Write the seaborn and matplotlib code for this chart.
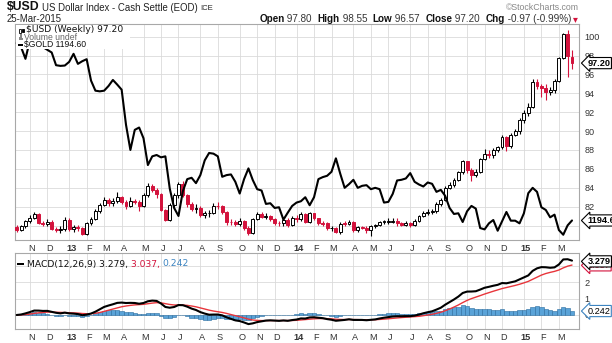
import numpy as np
import pandas as pd
import matplotlib
matplotlib.use("Agg")
import matplotlib.pyplot as plt
import seaborn as sns
from matplotlib.patches import Rectangle
from matplotlib.transforms import ScaledTranslation

# ---------------- data (weekly bars, week of 2012-10-15 .. 2015-03-23) ----------------
first_week = "2012-10-15"

usd_open = [79.85,79.52,79.90,80.45,80.80,81.22,80.30,80.12,80.40,79.62,
            79.55,79.68,80.60,79.62,79.88,79.72,79.12,80.25,80.70,81.50,
            82.22,82.72,82.40,82.60,83.02,82.52,82.10,82.60,82.50,82.12,
            83.22,84.22,83.80,83.30,81.62,80.62,82.20,83.25,84.40,83.20,
            82.25,81.70,81.88,81.12,81.30,81.32,82.12,82.05,81.42,80.40,
            80.35,80.12,80.45,79.72,79.25,80.72,81.18,80.92,81.00,80.68,
            80.28,80.22,80.60,80.05,80.80,80.68,81.20,80.40,81.30,80.75,
            80.22,80.22,79.70,79.72,79.30,80.20,80.18,80.40,79.48,79.82,
            79.78,79.50,79.92,80.02,80.40,80.40,80.42,80.45,80.28,80.10,
            80.22,80.10,80.52,81.00,81.38,81.40,81.50,82.30,82.75,84.00,
            84.30,84.80,85.62,86.80,85.90,85.32,85.70,87.00,87.62,87.50,
            88.00,88.30,89.40,88.40,89.62,90.00,91.22,91.90,92.55,95.20,
            94.80,94.60,94.18,94.30,95.32,97.70,100.30,97.80]

usd_high = [80.05,80.10,80.60,81.10,81.45,81.35,80.45,80.65,80.55,79.85,
            79.90,80.90,80.75,80.05,80.10,79.85,80.40,80.90,81.80,82.40,
            83.00,82.95,82.90,83.55,83.15,82.75,83.00,82.85,82.70,83.45,
            84.50,84.45,84.00,83.45,81.75,82.35,83.40,84.60,84.75,83.35,
            82.45,82.25,82.05,81.50,81.65,82.40,82.50,82.15,81.55,80.65,
            80.55,80.75,80.60,79.90,80.85,81.45,81.40,81.30,81.15,80.85,
            80.50,80.90,80.75,81.00,81.10,81.40,81.30,81.45,81.35,80.85,
            80.45,80.35,80.00,79.85,80.40,80.50,80.60,80.50,79.95,80.00,
            79.95,80.10,80.20,80.50,80.60,80.75,80.80,80.75,80.40,80.45,
            80.35,80.65,81.15,81.55,81.70,81.70,82.45,82.90,84.20,84.65,
            85.00,85.80,86.95,86.85,86.05,86.00,87.20,88.15,87.95,88.20,
            88.45,89.55,89.50,89.80,90.25,91.35,92.20,93.00,95.50,95.50,
            95.00,95.00,94.70,95.55,97.80,100.39,100.71,98.55]

usd_low = [79.30,79.40,79.75,80.30,80.65,80.20,79.95,79.90,79.50,79.30,
           79.20,79.45,79.40,79.35,79.45,78.95,78.95,80.05,80.55,81.30,
           82.05,82.10,82.05,82.40,82.30,81.70,81.95,82.25,81.50,81.95,
           83.05,83.55,82.95,81.50,80.50,80.45,81.90,82.90,83.05,82.00,
           81.50,81.35,80.90,80.85,80.95,81.20,81.80,81.25,80.10,80.10,
           79.90,79.95,79.55,79.00,79.15,80.55,80.75,80.65,80.50,80.10,
           79.95,79.95,79.85,79.90,80.40,80.50,80.25,80.30,80.60,80.05,
           79.90,79.50,79.45,79.20,79.10,79.95,80.05,79.35,79.30,79.60,
           79.25,78.90,79.70,79.90,80.15,80.20,80.25,79.95,79.90,79.90,
           79.85,79.95,80.40,80.90,81.15,81.25,81.35,82.10,82.65,83.90,
           84.05,84.70,85.45,85.55,84.70,85.10,85.55,86.95,87.15,87.20,
           87.75,88.10,87.90,88.25,89.50,89.70,90.85,91.60,92.40,94.45,
           93.60,93.25,93.80,94.05,95.15,97.60,95.70,96.57]

usd_close = [79.52,79.90,80.45,80.80,81.22,80.30,80.12,80.40,79.62,79.55,
             79.68,80.60,79.62,79.88,79.72,79.12,80.25,80.70,81.50,82.22,
             82.72,82.40,82.60,83.02,82.52,82.10,82.60,82.50,82.12,83.22,
             84.22,83.80,83.30,81.62,80.62,82.20,83.25,84.40,83.20,82.25,
             81.70,81.88,81.12,81.30,81.32,82.12,82.05,81.42,80.40,80.35,
             80.12,80.45,79.72,79.25,80.72,81.18,80.92,81.00,80.68,80.28,
             80.22,80.60,80.05,80.80,80.68,81.20,80.40,81.30,80.75,80.22,
             80.20,79.70,79.72,79.30,80.20,80.18,80.40,79.48,79.82,79.78,
             79.50,79.92,80.02,80.40,80.42,80.42,80.45,80.28,80.10,80.22,
             80.10,80.52,81.00,81.38,81.40,81.50,82.30,82.75,84.00,84.30,
             84.80,85.62,86.80,85.90,85.32,85.70,87.00,87.62,87.50,88.00,
             88.30,89.40,88.40,89.62,90.00,91.22,91.90,92.55,95.20,94.80,
             94.60,94.18,94.30,95.32,97.72,100.29,97.90,97.20]

gold_close = [1724,1712,1677,1731,1713,1750,1712,1704,1696,1658,
              1656,1657,1668,1692,1662,1670,1676,1612,1582,1580,
              1582,1596,1614,1600,1585,1480,1405,1465,1472,1440,
              1360,1386,1390,1383,1386,1290,1232,1208,1282,1318,
              1322,1306,1330,1374,1396,1394,1386,1325,1330,1332,
              1310,1275,1318,1350,1315,1288,1284,1244,1246,1232,
              1234,1197,1218,1238,1248,1252,1264,1240,1264,1318,
              1324,1328,1340,1380,1334,1292,1303,1316,1292,1298,
              1300,1288,1292,1288,1248,1250,1274,1314,1316,1320,
              1336,1310,1302,1296,1308,1304,1280,1286,1268,1232,
              1214,1216,1190,1222,1238,1230,1172,1168,1186,1196,
              1164,1192,1220,1194,1194,1186,1216,1276,1292,1280,
              1234,1226,1204,1212,1166,1152,1180,1194.6]

macd_periods = (12, 26, 9)
tick_labels = ["N","D","13","F","M","A","M","J","J","A","S","O","N","D",
               "14","F","M","A","M","J","J","A","S","O","N","D","15","F","M"]
usd_ticks = [80, 82, 84, 86, 88, 90, 92, 94, 96, 98, 100]
macd_ticks = [0, 1, 2, 3]
usd_last, gold_last = 97.20, 1194.60
macd_last = (3.279, 3.037, 0.242)

# ---------------- setup ----------------
sns.set_theme(style="white")
plt.rcParams["font.family"] = ["Liberation Sans", "DejaVu Sans"]

W, H = 612, 343
fig = plt.figure(figsize=(W / 100, H / 100), dpi=100)
fig.patch.set_facecolor("white")
def fx(p): return p / W
def fy(p): return 1 - p / H

LX, RX = 15, 579
MT, MB = 24, 240
CT, CB = 252.7, 329.3
ax = fig.add_axes([fx(LX), fy(MB), (RX - LX) / W, (MB - MT) / H])
ax3 = fig.add_axes([fx(LX), fy(CB), (RX - LX) / W, (CB - CT) / H], sharex=ax)

n = len(usd_close)
idx = np.arange(n)
dates = pd.date_range(first_week, periods=n, freq="7D")
month_pos = [i for i in range(1, n) if dates[i].month != dates[i - 1].month]

RED = "#d3123c"
GRID = "#dadada"
o = np.array(usd_open); c = np.array(usd_close)
hi = np.array(usd_high); lo = np.array(usd_low)
up = c >= o
edge = np.where(up, "black", RED)
face = np.where(up, "white", RED)

# ---- main panel: candles ----
ax.vlines(idx, lo, hi, colors=edge, lw=0.8, zorder=2)
ax.bar(idx, np.maximum(np.abs(c - o), 0.06), bottom=np.minimum(o, c), width=0.66,
       color=face, edgecolor=edge, linewidth=0.7, zorder=3)
ax.set_ylim(78.47, 101.34)
ax.set_xlim(-0.39, 128.6)

# gold overlay
ax2 = ax.twinx()
sns.lineplot(x=idx, y=gold_close, ax=ax2, color="black", lw=1.5, zorder=4)
ax2.set_ylim(1136.3, 1781)
ax2.set_yticks([])
ax2.set_ylabel("")
ax2.grid(False)
for s in ax2.spines.values():
    s.set_visible(False)

# ---- MACD panel ----
cs = pd.Series(usd_close)
f, s_, g = macd_periods
macd = cs.ewm(span=f, adjust=False).mean() - cs.ewm(span=s_, adjust=False).mean()
signal = macd.ewm(span=g, adjust=False).mean()
hist = macd - signal
ax3.bar(idx, hist.values, width=1.0, color="#5aa3d8", edgecolor="#2a6c9e", linewidth=0.4, zorder=2)
sns.lineplot(x=idx, y=signal.values, ax=ax3, color="#e8353b", lw=1.0, zorder=3)
sns.lineplot(x=idx, y=macd.values, ax=ax3, color="black", lw=1.5, zorder=4)
ax3.set_ylim(-0.875, 3.81)

# ---- axes styling ----
for a in (ax, ax3):
    a.set_facecolor("white")
    for sp in a.spines.values():
        sp.set_color("#a8a8a8"); sp.set_linewidth(0.8)
    a.set_xticks(month_pos)
    a.grid(True, color=GRID, lw=0.6)
    a.set_axisbelow(True)
    a.yaxis.tick_right()
    a.tick_params(axis="both", length=0, labelsize=6.6, colors="#333333")
    a.tick_params(axis="x", pad=3)
    a.tick_params(axis="y", pad=4)
    a.set_xlabel(""); a.set_ylabel("")
    a.set_xticklabels(tick_labels)
    for lbl in a.get_xticklabels():
        lbl.set_transform(lbl.get_transform() + ScaledTranslation(2 / 100, 0, fig.dpi_scale_trans))
        if lbl.get_text().isdigit():
            lbl.set_fontweight("bold")
ax.set_yticks(usd_ticks)
ax.set_yticklabels(["" if v == 80 else str(v) for v in usd_ticks])
ax3.set_yticks(macd_ticks)
ax3.set_yticklabels([str(v) if v < 3 else "" for v in macd_ticks])

# ---- right-side value tags ----
def tag(a, val, text, ec, tc="black", weight="bold", z=10):
    a.annotate(text, xy=(1.0, val), xycoords=("axes fraction", "data"),
               xytext=(6, 0), textcoords="offset points", va="center", ha="left",
               fontsize=6.6, color=tc, fontweight=weight, annotation_clip=False, zorder=z,
               bbox=dict(boxstyle="larrow,pad=0.12", fc="white", ec=ec, lw=0.8))
tag(ax, usd_last, f"{usd_last:.2f}", "black")
tag(ax2, gold_last, f"{gold_last:.2f}", "black")
tag(ax3, macd_last[1], f"{macd_last[1]:.3f}", RED, tc=RED, weight="normal", z=9)
tag(ax3, macd_last[0], f"{macd_last[0]:.3f}", "black", z=10)
tag(ax3, macd_last[2], f"{macd_last[2]:.3f}", "#3b83c0", weight="normal")

# ---- text helpers ----
renderer = fig.canvas.get_renderer()
def seq_text(x, y, pieces, align="left"):
    ts, widths = [], []
    for s, kw in pieces:
        t = fig.text(0, fy(y), s, va="center", ha="left", **kw)
        ts.append(t)
        widths.append(t.get_window_extent(renderer=renderer).width)
    if align == "right":
        x = x - sum(widths)
    for t, w in zip(ts, widths):
        t.set_x(fx(x))
        x += w
    return x

# header
fig.text(fx(7), fy(7.3), "$USD", fontsize=8.8, fontweight="bold", va="center", color="#111")
fig.text(fx(42), fy(8), "US Dollar Index - Cash Settle (EOD)", fontsize=6.9, va="center", color="#222")
fig.text(fx(200), fy(8.3), "ICE", fontsize=5.6, va="center", color="#222")
fig.text(fx(7), fy(18.5), "25-Mar-2015", fontsize=6.9, va="center", color="#222")
fig.text(fx(579), fy(7), "\u00a9StockCharts.com", fontsize=6.3, va="center", ha="right", color="#888888")
B = dict(fontsize=7.1, fontweight="bold", color="#111")
Rg = dict(fontsize=7.1, color="#333")
seq_text(571, 18.5, [("Open", B), (" 97.80  ", Rg), ("High", B), (" 98.55  ", Rg),
                     ("Low", B), (" 96.57  ", Rg), ("Close", B), (" 97.20  ", Rg),
                     ("Chg", B), (" -0.97 (-0.99%)", Rg)], align="right")
fig.text(fx(572.5), fy(18.8), "\u25be", fontsize=7, color=RED, va="center", ha="left",
         family=["DejaVu Sans"])

# legend box in main panel
fig.add_artist(Rectangle((fx(15.6), fy(49)), (130 - 15.6) / W, (49 - 24.6) / H,
                         transform=fig.transFigure, fc="white", ec="none", zorder=1))
# candle icon
fig.add_artist(Rectangle((fx(18.5), fy(32.5)), 2 / W, 4 / H, transform=fig.transFigure,
                         fc="white", ec="black", lw=0.6, zorder=3))
fig.add_artist(Rectangle((fx(21.5), fy(31.5)), 2 / W, 3 / H, transform=fig.transFigure,
                         fc="black", ec="black", lw=0.6, zorder=3))
for k, hgt in enumerate([3, 5, 2]):
    fig.add_artist(Rectangle((fx(18.5 + 1.8 * k), fy(39.5)), 1.2 / W, hgt / H,
                             transform=fig.transFigure, fc="#888", ec="none", zorder=3))
fig.add_artist(Rectangle((fx(18), fy(45.6)), 5 / W, 1.3 / H, transform=fig.transFigure,
                         fc="black", ec="none", zorder=3))
LG = dict(fontsize=6.6, family=["DejaVu Sans"], color="#111")
fig.text(fx(25.5), fy(30), "$USD (Weekly) 97.20", va="center", **LG)
fig.text(fx(24.5), fy(37.4), "Volume undef", va="center", fontsize=6.2, color="#666666")
fig.text(fx(24.5), fy(45), "$GOLD 1194.60", va="center", fontsize=6.2, color="#111")

# MACD legend
fig.add_artist(Rectangle((fx(17), fy(264.8)), 7 / W, 1.5 / H, transform=fig.transFigure,
                         fc="black", ec="none", zorder=3))
ML = dict(fontsize=6.6, family=["DejaVu Sans"])
seq_text(27, 264, [("MACD(12,26,9) 3.279, ", dict(color="#111", **ML)),
                   ("3.037, ", dict(color=RED, **ML)),
                   ("0.242", dict(color="#3b83c0", **ML))])

fig.savefig("out.png", dpi=100, facecolor="white")
